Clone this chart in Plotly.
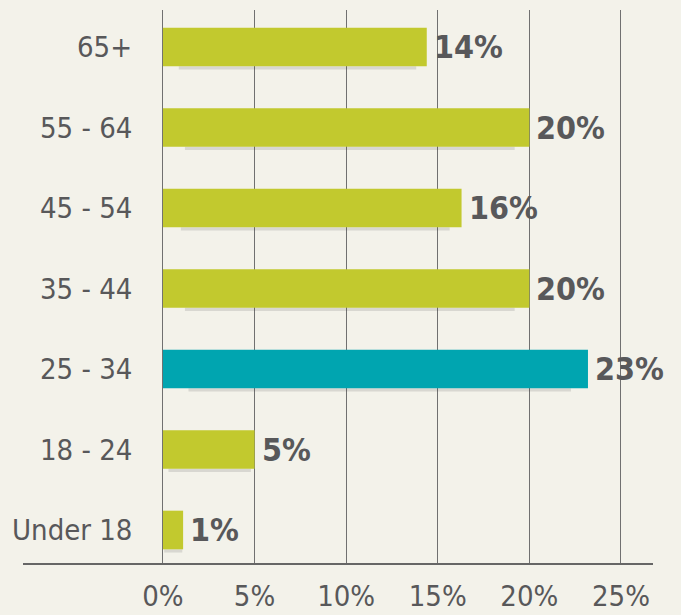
import plotly.graph_objects as go

categories = ["Under 18", "18 - 24", "25 - 34", "35 - 44", "45 - 54", "55 - 64", "65+"]
values = [1.1, 5.0, 23.2, 20.0, 16.3, 20.0, 14.4]
value_labels = ["1%", "5%", "23%", "20%", "16%", "20%", "14%"]
highlight = "25 - 34"
tick_vals = [0, 5, 10, 15, 20, 25]
tick_text = ["0%", "5%", "10%", "15%", "20%", "25%"]

GREEN = "#C2C92E"
TEAL = "#00A5B0"
BG = "#F3F2EA"
TXT = "#58585A"
NARROW = "DejaVu Sans Condensed, Liberation Sans Narrow, sans-serif"

colors = [TEAL if c == highlight else GREEN for c in categories]

fig = go.Figure()
# subtle shadow under each bar
fig.add_trace(go.Bar(
    y=categories, x=[v * 0.90 for v in values], base=[v * 0.06 for v in values],
    orientation="h", width=0.04, offset=-0.28,
    marker=dict(color="rgba(60,60,60,0.14)", line=dict(width=0)),
    hoverinfo="skip", showlegend=False,
))
fig.add_trace(go.Bar(
    y=categories, x=values, orientation="h", width=0.48,
    marker=dict(color=colors, line=dict(width=0)),
    showlegend=False,
))

for c, v, t in zip(categories, values, value_labels):
    fig.add_annotation(x=v, y=c, xref="x", yref="y", text="<b>%s</b>" % t,
                       xanchor="left", yanchor="middle", xshift=5, showarrow=False,
                       font=dict(family=NARROW, size=32, color=TXT))
    fig.add_annotation(x=-1.6, y=c, xref="x", yref="y", text=c,
                       xanchor="right", yanchor="middle", showarrow=False,
                       font=dict(family=NARROW, size=29, color=TXT))

fig.update_layout(
    width=681, height=615,
    margin=dict(l=23, r=28, t=10, b=52, autoexpand=False),
    paper_bgcolor=BG, plot_bgcolor=BG,
    barmode="overlay",
    xaxis=dict(range=[-7.64, 26.75], tickvals=tick_vals, ticktext=tick_text,
               showgrid=True, gridcolor="#707070", gridwidth=1, zeroline=False,
               showline=True, linecolor="#666666", linewidth=1.5,
               tickfont=dict(family=NARROW, size=29, color=TXT),
               ticklabelstandoff=6, automargin=False, fixedrange=True),
    yaxis=dict(categoryorder="array", categoryarray=categories,
               range=[-0.41, 6.46], showticklabels=False, showgrid=False,
               zeroline=False, showline=False, automargin=False, fixedrange=True),
)

fig.write_html("out.html", config={"displayModeBar": False},
               post_script="document.body.style.margin='0';document.body.style.background='%s';" % BG)
